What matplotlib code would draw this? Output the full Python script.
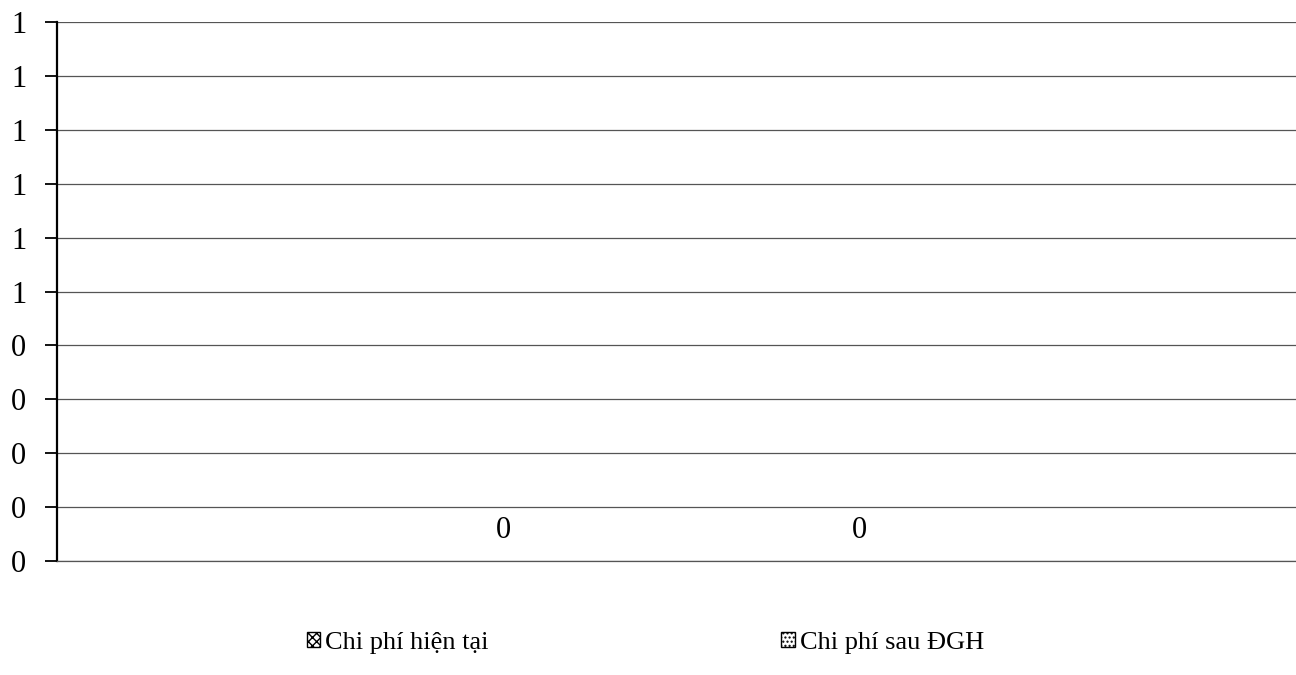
import numpy as np
import matplotlib.pyplot as plt
from matplotlib.patches import Patch

series_names = ['Chi phí hiện tại', 'Chi phí sau ĐGH']
series_values = [0, 0]
y_ticks = [0, 0.1, 0.2, 0.3, 0.4, 0.5, 0.6, 0.7, 0.8, 0.9, 1.0]
y_tick_labels = ['0', '0', '0', '0', '0', '1', '1', '1', '1', '1', '1']
data_labels = ['0', '0']

plt.rcParams['font.family'] = ['Liberation Serif', 'DejaVu Serif']

fig = plt.figure(figsize=(12.96, 6.75), dpi=100)
ax = fig.add_axes([0.044, 0.169, 0.9637, 0.798])

bar_w = 2 / 7
offsets = [-1 / 7, 1 / 7]
hatches = ['xxxx', '....']
for off, val, lab, h in zip(offsets, series_values, data_labels, hatches):
	ax.bar(off, val, width=bar_w, color='white', edgecolor='black', hatch=h, linewidth=0)
	ax.annotate(lab, (off, val), xytext=(0, 22), textcoords='offset points',
		ha='center', va='center', fontsize=22)

ax.set_xlim(-0.5, 0.5)
ax.set_ylim(0, 1)
ax.set_yticks(y_ticks)
ax.set_yticklabels(y_tick_labels, fontsize=22)
ax.tick_params(axis='y', length=9, width=1.3, pad=13, color='black')
ax.set_xticks([])
ax.grid(axis='y', color='#555555', linewidth=0.9)
ax.set_axisbelow(True)

for s in ['top', 'right']:
	ax.spines[s].set_visible(False)
ax.spines['bottom'].set_color('#555555')
ax.spines['bottom'].set_linewidth(0.9)
ax.spines['left'].set_linewidth(1.6)

handles = [Patch(facecolor='white', edgecolor='black', hatch=h, label=n)
	for h, n in zip(hatches, series_names)]
fig.legend(handles=handles, loc='center', bbox_to_anchor=(0.498, 0.047), ncol=2,
	frameon=False, fontsize=19, handlelength=0.5, handleheight=0.5,
	handletextpad=0.2, columnspacing=11.1)

plt.savefig('out.png', dpi=100)
